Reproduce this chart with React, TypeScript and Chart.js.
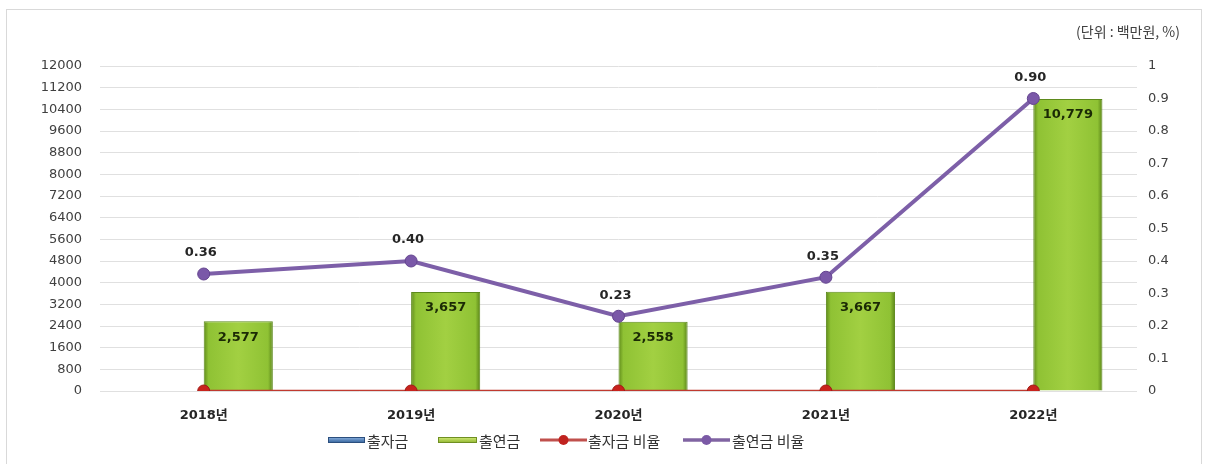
import React, { useEffect, useRef } from "react";
import { Chart, registerables } from "chart.js";

Chart.register(...registerables);

const categories = ["2018년", "2019년", "2020년", "2021년", "2022년"];
const investAmount = [0, 0, 0, 0, 0]; // 출자금
const contribAmount = [2577, 3657, 2558, 3667, 10779]; // 출연금
const investRatio = [0, 0, 0, 0, 0]; // 출자금 비율
const contribRatio = [0.36, 0.4, 0.23, 0.35, 0.9]; // 출연금 비율
const seriesNames = ["출자금", "출연금", "출자금 비율", "출연금 비율"];
const unitText = "(단위 : 백만원, %)";
const leftMax = 12000;
const leftStep = 800;
const rightMax = 1;
const rightStep = 0.1;

const NUM_FONT = "'DejaVu Sans', 'Noto Sans CJK KR', sans-serif";
const KR_FONT = "'Noto Sans CJK KR', 'DejaVu Sans', sans-serif";

function barGradient(ctx: any) {
  const chart = ctx.chart;
  const xs = chart.scales && chart.scales.x;
  if (!xs || !chart.chartArea) return "#9ccc3a";
  const c = xs.getPixelForValue(ctx.dataIndex);
  const w = xs.width / categories.length / 3;
  const g = chart.ctx.createLinearGradient(c, 0, c + w, 0);
  g.addColorStop(0, "#5f8a1a");
  g.addColorStop(0.07, "#8fc234");
  g.addColorStop(0.5, "#a2d042");
  g.addColorStop(0.93, "#8fc234");
  g.addColorStop(1, "#5a8418");
  return g;
}

const decorPlugin = {
  id: "decor",
  beforeDraw(chart: any) {
    const c = chart.ctx;
    c.save();
    c.fillStyle = "#ffffff";
    c.fillRect(0, 0, chart.width, chart.height);
    c.strokeStyle = "#d9d9d9";
    c.lineWidth = 1;
    c.strokeRect(6.5, 9.5, 1195, 460);
    c.restore();
  },
  afterDatasetsDraw(chart: any) {
    const c = chart.ctx;
    c.save();
    c.textAlign = "center";
    c.textBaseline = "middle";
    const barMeta = chart.getDatasetMeta(1);
    c.font = "bold 13px " + NUM_FONT;
    c.fillStyle = "#1b2a05";
    barMeta.data.forEach((el: any, i: number) => {
      c.fillText(contribAmount[i].toLocaleString("en-US"), el.x, el.y + 16);
    });
    const lineMeta = chart.getDatasetMeta(3);
    c.fillStyle = "#262626";
    lineMeta.data.forEach((el: any, i: number) => {
      c.fillText(contribRatio[i].toFixed(2), el.x - 3, el.y - 21);
    });
    c.restore();
  },
  afterDraw(chart: any) {
    const c = chart.ctx;
    c.save();
    c.font = "14px " + KR_FONT;
    c.fillStyle = "#404040";
    c.textAlign = "right";
    c.textBaseline = "middle";
    c.fillText(unitText, 1180, 32);

    const y = 440;
    c.textAlign = "left";
    c.font = "15px " + KR_FONT;
    const drawBox = (x: number, w: number, c1: string, c2: string, b: string) => {
      const g = c.createLinearGradient(0, y - 3, 0, y + 3);
      g.addColorStop(0, c1);
      g.addColorStop(1, c2);
      c.fillStyle = g;
      c.fillRect(x, y - 3, w, 6);
      c.strokeStyle = b;
      c.lineWidth = 1;
      c.strokeRect(x + 0.5, y - 2.5, w - 1, 5);
    };
    const drawLineIcon = (x: number, w: number, col: string, lw: number, dot: string) => {
      c.strokeStyle = col;
      c.lineWidth = lw;
      c.beginPath();
      c.moveTo(x, y);
      c.lineTo(x + w, y);
      c.stroke();
      c.fillStyle = dot;
      c.beginPath();
      c.arc(x + w / 2, y, 5, 0, Math.PI * 2);
      c.fill();
    };
    drawBox(328, 37, "#8db3e2", "#2f5f97", "#2b4f7e");
    c.fillStyle = "#333333";
    c.fillText(seriesNames[0], 367, y + 1);
    drawBox(438, 39, "#d4ec7a", "#8db32c", "#6f8f22");
    c.fillStyle = "#333333";
    c.fillText(seriesNames[1], 479, y + 1);
    drawLineIcon(540, 47, "#c0504d", 3, "#c0231f");
    c.fillStyle = "#333333";
    c.fillText(seriesNames[2], 588, y + 1);
    drawLineIcon(683, 47, "#8064a2", 3.5, "#7b5aa6");
    c.fillStyle = "#333333";
    c.fillText(seriesNames[3], 732, y + 1);
    c.restore();
  },
};

export default function App() {
  const ref = useRef<HTMLCanvasElement | null>(null);
  useEffect(() => {
    if (!ref.current) return;
    const chart = new Chart(ref.current, {
      type: "bar",
      data: {
        labels: categories,
        datasets: [
          {
            type: "bar",
            label: seriesNames[0],
            data: investAmount,
            backgroundColor: "#4f81bd",
            borderWidth: 0,
            yAxisID: "y",
            order: 2,
            categoryPercentage: 2 / 3,
            barPercentage: 1,
          },
          {
            type: "bar",
            label: seriesNames[1],
            data: contribAmount,
            backgroundColor: barGradient as any,
            borderColor: "#5d8a1c",
            borderWidth: 1,
            yAxisID: "y",
            order: 2,
            categoryPercentage: 2 / 3,
            barPercentage: 1,
          },
          {
            type: "line",
            label: seriesNames[2],
            data: investRatio,
            borderColor: "#c0392f",
            borderWidth: 2.5,
            pointRadius: 6,
            pointBackgroundColor: "#c8231d",
            pointBorderColor: "#a01a16",
            pointBorderWidth: 1,
            yAxisID: "y1",
            order: 1,
          },
          {
            type: "line",
            label: seriesNames[3],
            data: contribRatio,
            borderColor: "#7d5fa8",
            borderWidth: 4,
            pointRadius: 6,
            pointBackgroundColor: "#7a58a8",
            pointBorderColor: "#654590",
            pointBorderWidth: 1,
            yAxisID: "y1",
            order: 0,
          },
        ],
      },
      options: {
        responsive: false,
        animation: false,
        devicePixelRatio: 1,
        layout: { padding: { top: 66, left: 0, right: 0, bottom: 0 } },
        plugins: {
          legend: { display: false },
          tooltip: { enabled: false },
        },
        scales: {
          x: {
            grid: { display: false, drawTicks: false },
            border: { display: false },
            ticks: {
              padding: 17,
              color: "#262626",
              font: { family: NUM_FONT, size: 13, weight: "bold" },
            },
            afterFit(scale: any) {
              scale.height = 73;
            },
          },
          y: {
            position: "left",
            min: 0,
            max: leftMax,
            grid: { color: "#e0e0e0", lineWidth: 1, drawTicks: false },
            border: { display: false },
            ticks: {
              stepSize: leftStep,
              padding: 18,
              color: "#404040",
              font: { family: NUM_FONT, size: 13 },
              callback: (v: any) => String(v),
            },
            afterFit(scale: any) {
              scale.width = 100;
            },
          },
          y1: {
            position: "right",
            min: 0,
            max: rightMax,
            grid: { display: false, drawTicks: false },
            border: { display: false },
            ticks: {
              stepSize: rightStep,
              padding: 11,
              color: "#404040",
              font: { family: NUM_FONT, size: 13 },
              callback: (v: any) => String(+Number(v).toFixed(1)),
            },
            afterFit(scale: any) {
              scale.width = 73;
            },
          },
        },
      } as any,
      plugins: [decorPlugin],
    });
    return () => chart.destroy();
  }, []);
  return (
    <div style={{ position: "absolute", left: 0, top: 0, width: 1210, height: 464 }}>
      <canvas ref={ref} width={1210} height={464} />
    </div>
  );
}
